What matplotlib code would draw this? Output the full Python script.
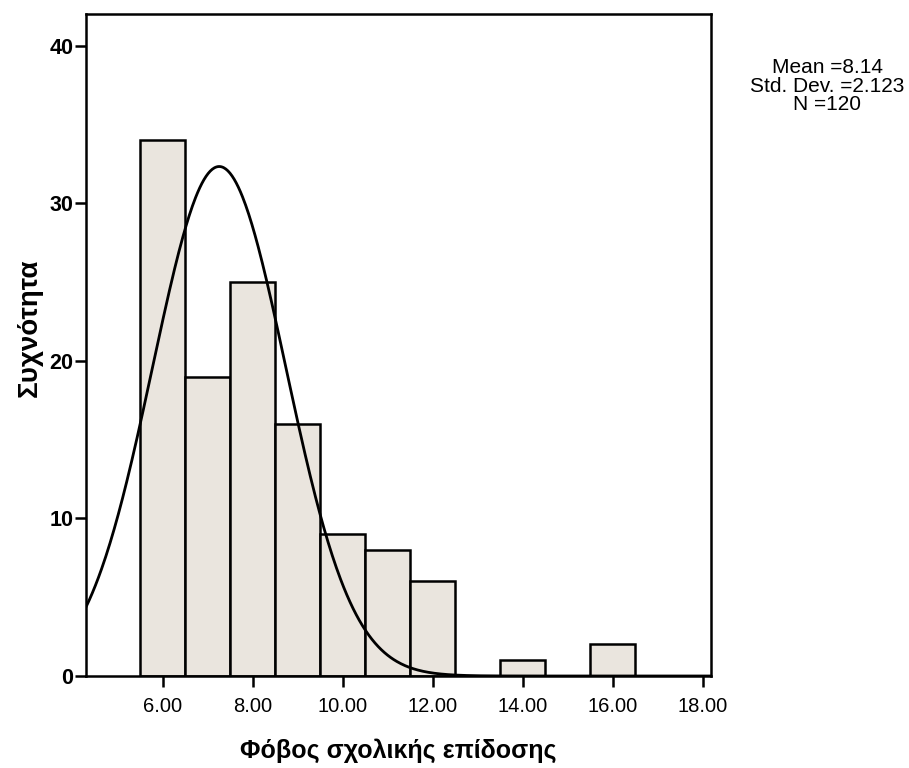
import numpy as np
import matplotlib
matplotlib.use("Agg")
import matplotlib.pyplot as plt

# Histogram data (bin centers and counts)
bin_centers = [6, 7, 8, 9, 10, 11, 12, 13, 14, 15, 16]
counts = [34, 19, 25, 16, 9, 8, 6, 0, 1, 0, 2]
bin_width = 1.0

# Normal curve as drawn in the chart
curve_mean = 7.25
curve_sd = 1.48
curve_n = 120

# Stats box text
stat_mean = "8.14"
stat_sd = "2.123"
stat_n = "120"

x_ticks = [6, 8, 10, 12, 14, 16, 18]
y_ticks = [0, 10, 20, 30, 40]

xlabel = "Φόβος σχολικής επίδοσης"
ylabel = "Συχνότητα"

plt.rcParams['font.family'] = ['Liberation Sans', 'DejaVu Sans']

fig = plt.figure(figsize=(9.09, 7.68), dpi=100)
ax = fig.add_axes([86/909, 1-676/768, (711-86)/909, (676-14)/768])

bc = [c for c, n in zip(bin_centers, counts) if n > 0]
bn = [n for n in counts if n > 0]
ax.bar(bc, bn, width=bin_width, color='#EAE5DE', edgecolor='black', linewidth=1.8, zorder=2)

xs = np.linspace(4.29, 18.18, 600)
ys = curve_n * bin_width / (curve_sd * np.sqrt(2*np.pi)) * np.exp(-(xs-curve_mean)**2/(2*curve_sd**2))
ax.plot(xs, ys, color='black', linewidth=2.0, zorder=3)

ax.set_xlim(4.29, 18.18)
ax.set_ylim(0, 42.03)
ax.set_xticks(x_ticks)
ax.set_xticklabels([f"{t:.2f}" for t in x_ticks], fontsize=14.5)
ax.set_yticks(y_ticks)
ax.set_yticklabels([str(t) for t in y_ticks], fontsize=15.5, fontweight='bold')
ax.tick_params(axis='both', direction='out', length=8, width=1.8, colors='black')
ax.tick_params(axis='x', pad=7)
ax.tick_params(axis='y', pad=1)
for s in ax.spines.values():
    s.set_linewidth(1.8)

ax.set_xlabel(xlabel, fontsize=18, fontweight='bold', labelpad=16)
ax.set_ylabel(ylabel, fontsize=20, fontweight='bold')
ax.yaxis.label.set(ha='center', va='center')
ax.yaxis.set_label_coords((30-86)/625, (676-328)/662)

fig.text(827/909, 1-86/768, f"Mean ={stat_mean}\nStd. Dev. ={stat_sd}\nN ={stat_n}",
         ha='center', va='center', fontsize=15, linespacing=0.95)

fig.savefig("out.png", dpi=100)
